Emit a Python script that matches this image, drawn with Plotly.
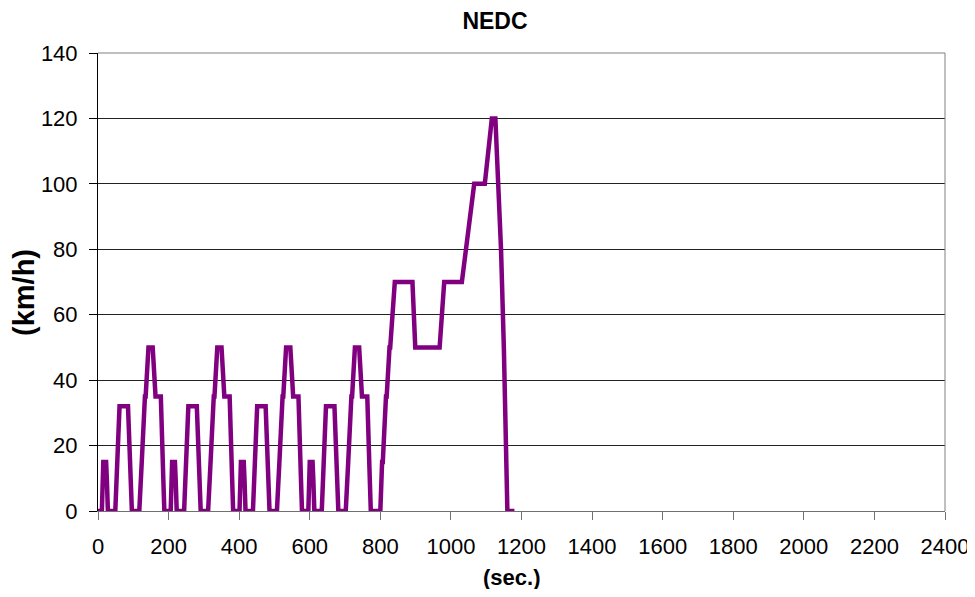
import plotly.graph_objects as go

# NEDC speed profile breakpoints: 4 x ECE-15 urban cycles, then the EUDC
time_s = [
    0, 11, 15, 23, 25, 28, 49, 54, 56, 61, 85, 93, 96, 117, 122, 124, 133, 135, 143, 155, 163, 176, 178, 185, 188,
    195, 206, 210, 218, 220, 223, 244, 249, 251, 256, 280, 288, 291, 312, 317, 319, 328, 330, 338, 350, 358, 371, 373, 380, 383,
    390, 401, 405, 413, 415, 418, 439, 444, 446, 451, 475, 483, 486, 507, 512, 514, 523, 525, 533, 545, 553, 566, 568, 575, 578,
    585, 596, 600, 608, 610, 613, 634, 639, 641, 646, 670, 678, 681, 702, 707, 709, 718, 720, 728, 740, 748, 761, 763, 770, 773,
    780, 800, 805, 807, 816, 818, 826, 828, 841, 891, 899, 968, 981, 1031, 1066, 1096, 1116, 1126, 1142, 1150, 1160, 1180,
]
speed_kmh = [
    0, 0, 15, 15, 10, 0, 0, 15, 15, 32, 32, 10, 0, 0, 15, 15, 35, 35, 50, 50, 35, 35, 35, 10, 0,
    0, 0, 15, 15, 10, 0, 0, 15, 15, 32, 32, 10, 0, 0, 15, 15, 35, 35, 50, 50, 35, 35, 35, 10, 0,
    0, 0, 15, 15, 10, 0, 0, 15, 15, 32, 32, 10, 0, 0, 15, 15, 35, 35, 50, 50, 35, 35, 35, 10, 0,
    0, 0, 15, 15, 10, 0, 0, 15, 15, 32, 32, 10, 0, 0, 15, 15, 35, 35, 50, 50, 35, 35, 35, 10, 0,
    0, 0, 15, 15, 35, 35, 50, 50, 70, 70, 50, 50, 70, 70, 100, 100, 120, 120, 80, 50, 0, 0,
]

FONT = "Liberation Sans, Arial, sans-serif"

# page body has an 8px margin, so the figure is drawn 8px in from the window edge
W, H = 967, 581

fig = go.Figure(
    go.Scatter(
        x=time_s,
        y=speed_kmh,
        mode="lines",
        line=dict(color="#800080", width=4.5),
        showlegend=False,
    )
)

fig.update_xaxes(
    range=[0, 2400],
    dtick=200,
    automargin=False,
    showgrid=False,
    zeroline=False,
    showline=True,
    linecolor="#707070",
    linewidth=1,
    ticks="outside",
    ticklen=8,
    tickcolor="#707070",
    ticklabelstandoff=8,
    ticklabeloverflow="allow",
    tickfont=dict(family=FONT, size=22, color="black"),
)

fig.update_yaxes(
    range=[0, 140],
    dtick=20,
    automargin=False,
    showgrid=True,
    gridcolor="#222222",
    gridwidth=1,
    zeroline=False,
    showline=True,
    linecolor="black",
    linewidth=1,
    ticks="outside",
    ticklen=8,
    tickcolor="black",
    ticklabelstandoff=7,
    tickfont=dict(family=FONT, size=22, color="black"),
)

fig.update_layout(
    width=W,
    height=H,
    margin=dict(l=90, r=30, t=45, b=78),
    paper_bgcolor="white",
    plot_bgcolor="white",
    title=dict(
        text="<b>NEDC</b>",
        font=dict(family=FONT, size=23, color="black"),
        x=(495 - 8) / W,
        xanchor="center",
        xref="container",
        y=1 - (21 - 8) / H,
        yanchor="middle",
        yref="container",
    ),
    # grey frame on top and right, like the original spreadsheet chart
    shapes=[
        dict(
            type="path",
            xref="paper",
            yref="paper",
            path="M 0,1 L 1,1 L 1,0",
            line=dict(color="#808080", width=1),
            layer="above",
        )
    ],
    annotations=[
        dict(
            text="<b>(sec.)</b>",
            xref="paper",
            yref="paper",
            x=(511 - 98) / 847,
            y=(511 - 577) / 458,
            xanchor="center",
            yanchor="middle",
            showarrow=False,
            font=dict(family=FONT, size=22, color="black"),
        ),
        dict(
            text="<b>(km/h)</b>",
            xref="paper",
            yref="paper",
            x=(24 - 98) / 847,
            y=(511 - 293) / 458,
            xanchor="center",
            yanchor="middle",
            textangle=-90,
            showarrow=False,
            font=dict(family=FONT, size=29, color="black"),
        ),
    ],
)

fig.write_html("out.html")
